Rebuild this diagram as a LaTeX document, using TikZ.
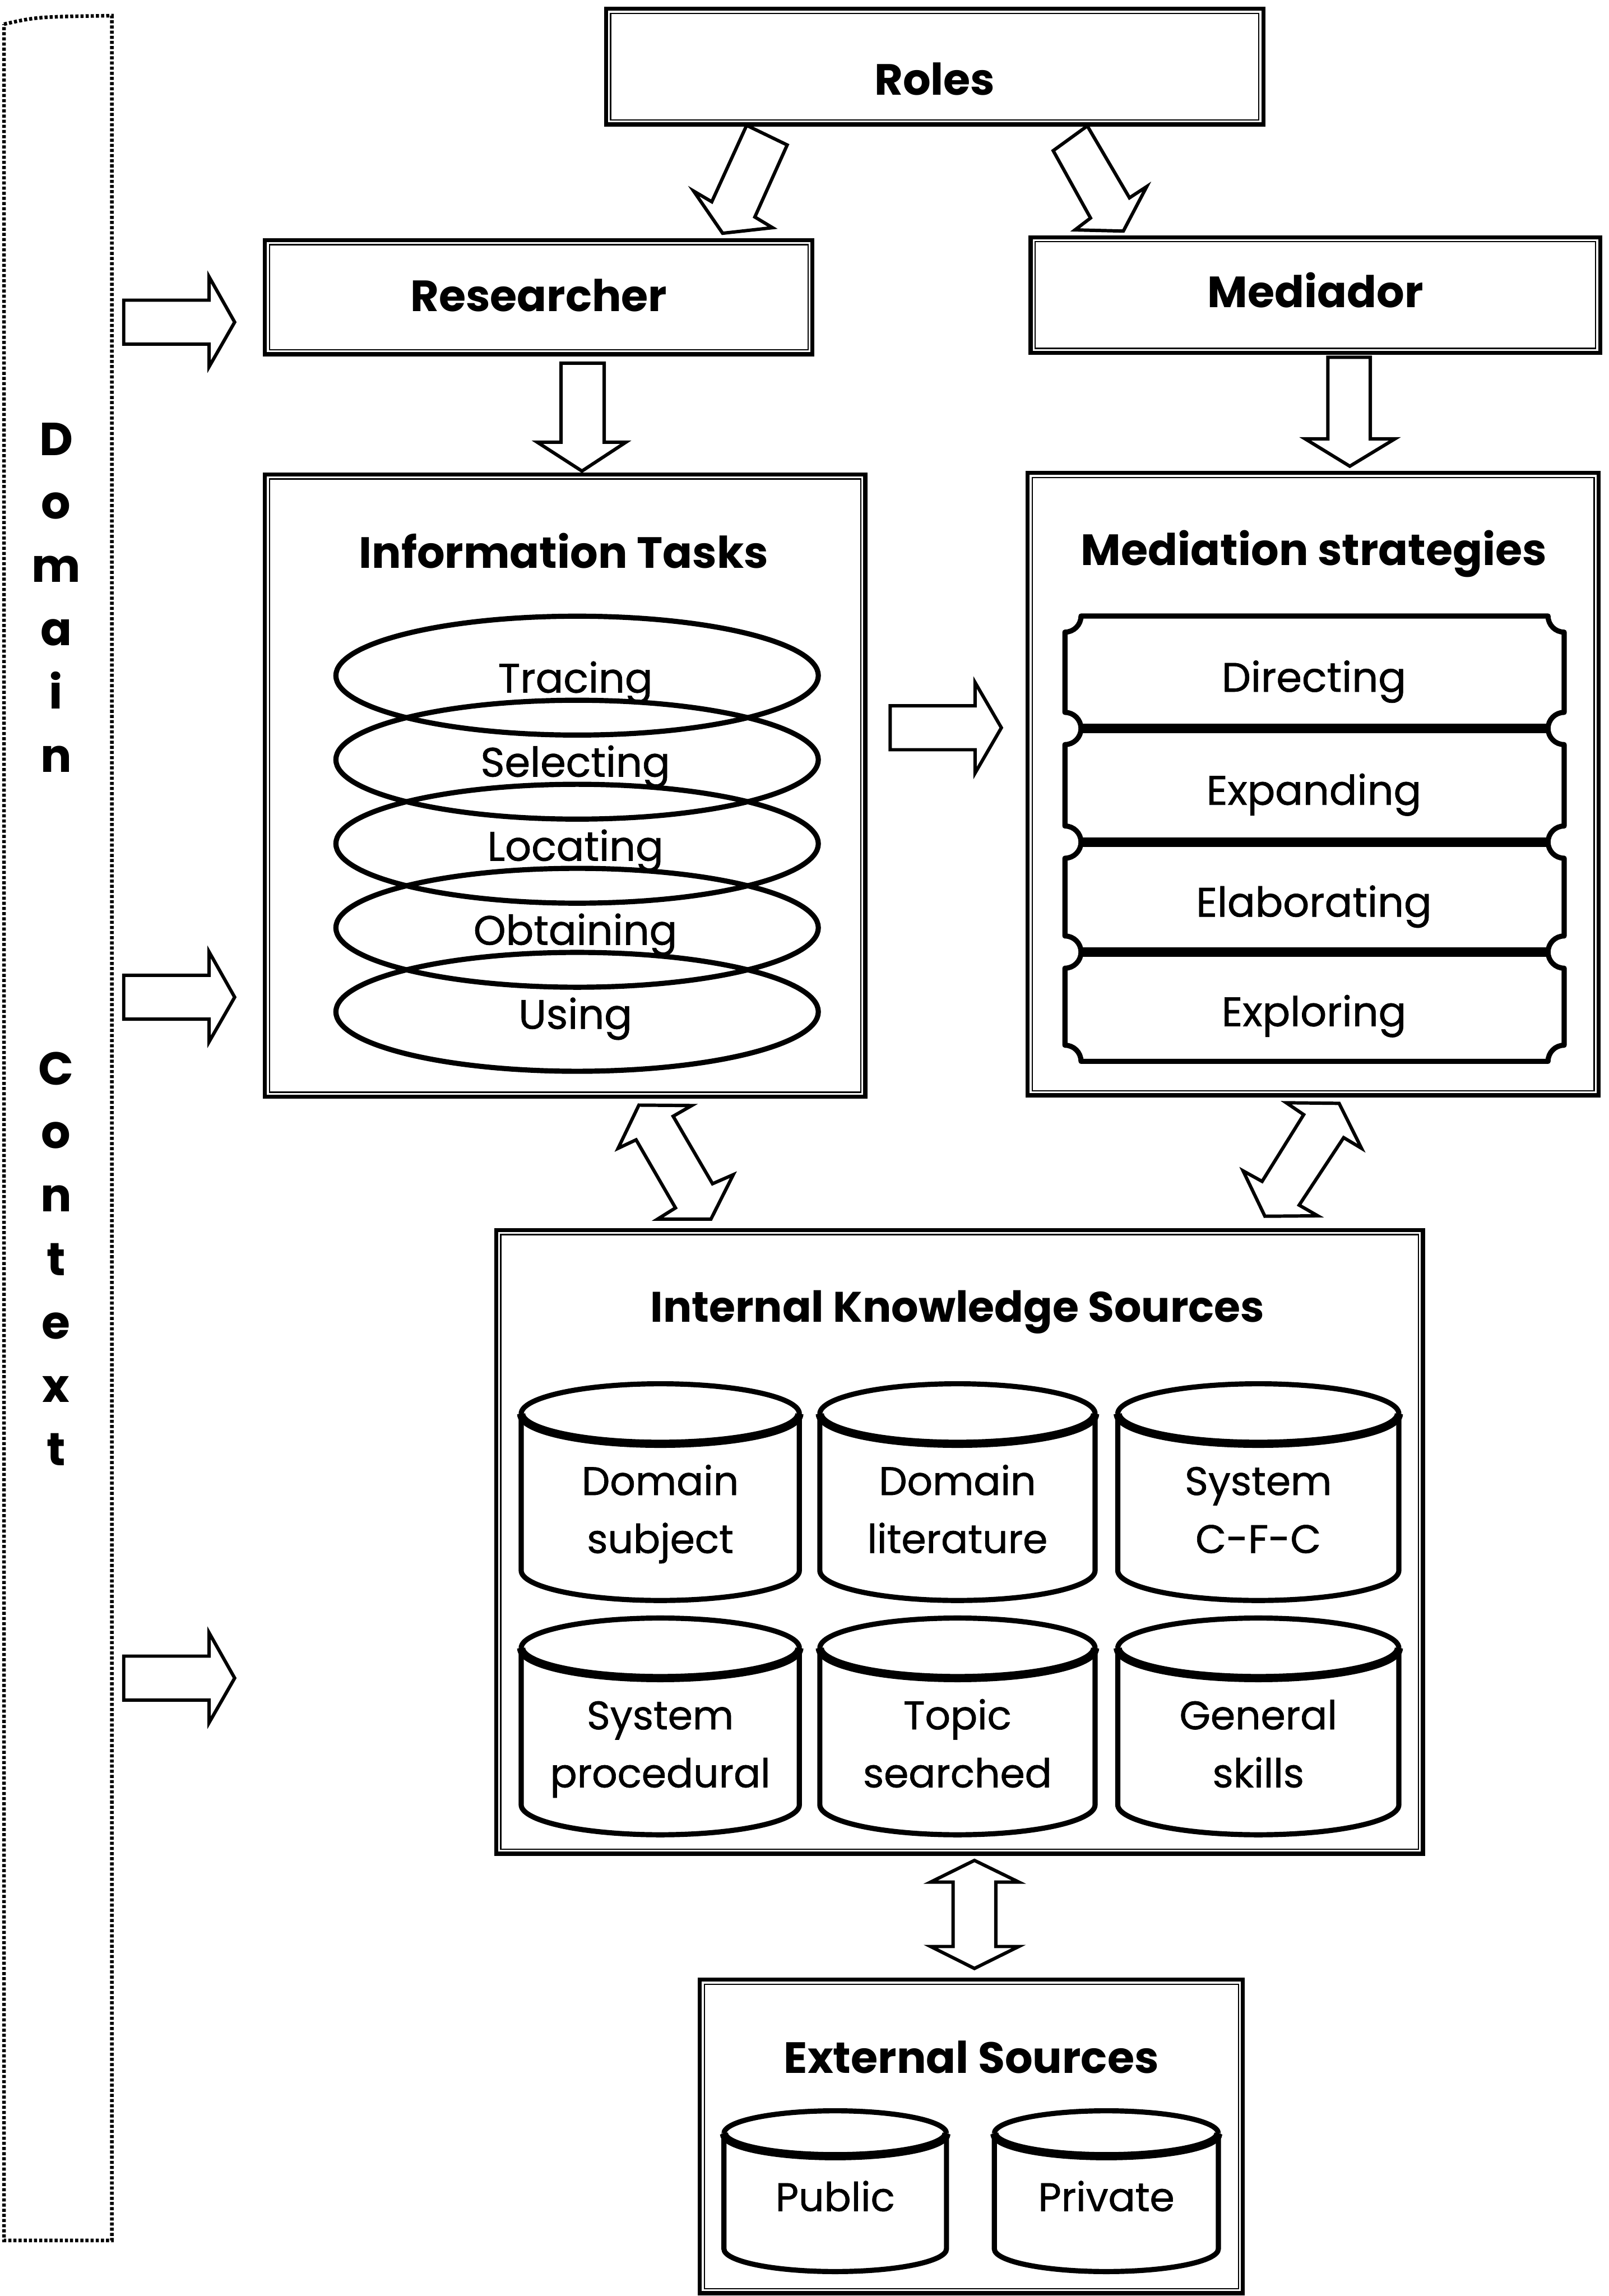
\documentclass[tikz,border=0pt]{standalone}
\usepackage{fontspec}
\setmainfont{Poppins}
\newfontfamily\bodyfont{Poppins}[FakeBold=0.9]
\usetikzlibrary{fit,calc,shapes.geometric}

% vertical cylinder: centre x, x radius, top y, bottom y, y radius of the ends
\newcommand\drawcyl[5]{%
  \pgfmathsetmacro\cylL{#1-#2}\pgfmathsetmacro\cylR{#1+#2}%
  \pgfmathsetmacro\cylM{#3+#5}\pgfmathsetmacro\cylF{#3+2*#5}%
  \pgfmathsetmacro\cylB{#4-#5}%
  \pgfmathsetmacro\cylkx{0.552*#2}\pgfmathsetmacro\cylky{0.552*#5}%
  \draw[cylline] (\cylL,\cylM) .. controls (\cylL,\cylM-\cylky) and (#1-\cylkx,#3) .. (#1,#3)
        .. controls (#1+\cylkx,#3) and (\cylR,\cylM-\cylky) .. (\cylR,\cylM);
  \draw[cylfront] (\cylL,\cylM) .. controls (\cylL,\cylM+\cylky) and (#1-\cylkx,\cylF) .. (#1,\cylF)
        .. controls (#1+\cylkx,\cylF) and (\cylR,\cylM+\cylky) .. (\cylR,\cylM);
  \draw[cylline] (\cylL,\cylM) -- (\cylL,\cylB)
        .. controls (\cylL,\cylB+\cylky) and (#1-\cylkx,#4) .. (#1,#4)
        .. controls (#1+\cylkx,#4) and (\cylR,\cylB+\cylky) .. (\cylR,\cylB) -- (\cylR,\cylM);
}

% one band of the strategy scroll, with concave corners
\newcommand\scrollrow[2]{%
  \def\scrXa{727.4}\def\scrXb{1068.4}\def\scrR{11}\def\scrK{6.07}%
  \draw[scrollline] (\scrXa+\scrR,#1) -- (\scrXb-\scrR,#1)
     .. controls (\scrXb-\scrR,#1+\scrK) and (\scrXb-\scrK,#1+\scrR) .. (\scrXb,#1+\scrR)
     -- (\scrXb,#2-\scrR)
     .. controls (\scrXb-\scrK,#2-\scrR) and (\scrXb-\scrR,#2-\scrK) .. (\scrXb-\scrR,#2)
     -- (\scrXa+\scrR,#2)
     .. controls (\scrXa+\scrR,#2-\scrK) and (\scrXa+\scrK,#2-\scrR) .. (\scrXa,#2-\scrR)
     -- (\scrXa,#1+\scrR)
     .. controls (\scrXa+\scrK,#1+\scrR) and (\scrXa+\scrR,#1+\scrK) .. (\scrXa+\scrR,#1) -- cycle;
}

\begin{document}
\begin{tikzpicture}[x=0.02cm, y=-0.02cm,
  frame/.style={draw, line width=1.6pt, inner sep=0pt},
  inframe/.style={draw, line width=0.5pt},
  blockarrow/.style={draw, line width=1.3pt, line join=miter, fill=white},
  title/.style={font=\fontsize{17}{20}\selectfont\bfseries, inner sep=0pt, anchor=base},
  item/.style={font=\bodyfont\fontsize{16}{19}\selectfont, inner sep=0pt, anchor=base},
  cyltext/.style={font=\bodyfont\fontsize{15.5}{18}\selectfont, inner sep=0pt, anchor=base},
  vletter/.style={font=\fontsize{18}{20}\selectfont\bfseries, inner sep=0pt, anchor=base},
  ring/.style={draw, line width=2pt, ellipse, inner sep=0pt,
               minimum width=6.592cm, minimum height=1.624cm},
  scrollline/.style={draw, line width=2pt, line join=round},
  separator/.style={line width=3.8pt},
  cylline/.style={line width=2pt},
  cylfront/.style={line width=3.2pt},
  dotted border/.style={line width=1.4pt, dash pattern=on 1.2pt off 0.8pt}
]
\fill[white] (0,0) rectangle (1099,1568);
\useasboundingbox (0,0) rectangle (1099,1568);

% ---- domain context strip ----
\draw[dotted border] (2.7,16.5) .. controls (25,11.5) .. (76.4,10.7) -- (76.4,1530) -- (2.7,1530) -- cycle;
\foreach \l [count=\i from 0] in {D,o,m,a,i,n}
  \node[vletter] (dom\i) at (38.3,{311+43.3*\i}) {\l};
\foreach \l [count=\i from 0] in {C,o,n,t,e,x,t}
  \node[vletter] (ctx\i) at (38.3,{741+43.3*\i}) {\l};

% ---- framed boxes ----
\node[frame, fit={(414,6) (863,85)}] (roles) {};
\node[frame, fit={(181,164) (555,242)}] (researcher) {};
\node[frame, fit={(704,162) (1093,241)}] (mediador) {};
\node[frame, fit={(181,324) (591,749)}] (tasks) {};
\node[frame, fit={(702,323) (1092,748)}] (mediation) {};
\node[frame, fit={(339,840) (972,1266)}] (internal) {};
\node[frame, fit={(478,1352) (849,1566)}] (external) {};
\foreach \f in {roles,researcher,mediador,tasks,mediation,internal,external}
  \draw[inframe] ($(\f.north west)+(4.5,4.5)$) rectangle ($(\f.south east)+(-4.5,-4.5)$);

% ---- titles ----
\node[title] (tRoles) at (638.5,65) {Roles};
\node[title] (tRes) at (368,212.6) {Researcher};
\node[title] (tMed) at (898.5,210) {Mediador};
\node[title] (tTasks) at (385,388) {Information Tasks};
\node[title] (tStrat) at (897.5,386) {Mediation strategies};
\node[title, font=\fontsize{16.6}{20}\selectfont\bfseries] (tInt) at (654,903) {Internal Knowledge Sources};
\node[title] (tExt) at (663.5,1415.7) {External Sources};

% ---- information tasks: stacked rings ----
\foreach \t [count=\i from 0] in {Tracing,Selecting,Locating,Obtaining,Using} {
  \node[ring] (ring\i) at (394.2,{461.4+57.4*\i}) {};
  \node[item] (task\i) at (393,{473+57.4*\i}) {\t};
}

% ---- mediation strategies: scroll bands ----
\scrollrow{420.7}{497.5}
\scrollrow{497.5}{575.1}
\scrollrow{575.1}{650.2}
\scrollrow{650.2}{724.8}
\foreach \y in {497.5,575.1,650.2}
  \draw[separator] (738.4,\y) -- (1057.4,\y);
\node[item] (strat0) at (897.5,472.4) {Directing};
\node[item] (strat1) at (897.5,549.6) {Expanding};
\node[item] (strat2) at (897.5,626) {Elaborating};
\node[item] (strat3) at (897.5,700.8) {Exploring};

% ---- internal knowledge sources ----
\drawcyl{451}{95}{945}{1093}{20.5}
\drawcyl{654}{94}{945}{1093}{20.5}
\drawcyl{859.5}{96}{945}{1093}{20.5}
\drawcyl{451}{95}{1105}{1253}{20.5}
\drawcyl{654}{94}{1105}{1253}{20.5}
\drawcyl{859.5}{96}{1105}{1253}{20.5}
\node[cyltext] (ks1a) at (451,1021) {Domain};
\node[cyltext] (ks1b) at (451,1060.6) {subject};
\node[cyltext] (ks2a) at (654,1021) {Domain};
\node[cyltext] (ks2b) at (654,1060.6) {literature};
\node[cyltext] (ks3a) at (859.5,1021) {System};
\node[cyltext] (ks3b) at (859.5,1060.6) {C-F-C};
\node[cyltext] (ks4a) at (451,1181) {System};
\node[cyltext] (ks4b) at (451,1220.6) {procedural};
\node[cyltext] (ks5a) at (654,1181) {Topic};
\node[cyltext] (ks5b) at (654,1220.6) {searched};
\node[cyltext] (ks6a) at (859.5,1181) {General};
\node[cyltext] (ks6b) at (859.5,1220.6) {skills};

% ---- external sources ----
\drawcyl{570.5}{76}{1441.5}{1551.3}{15.5}
\drawcyl{755.7}{76.5}{1441.5}{1551.3}{15.5}
\node[cyltext] (pub) at (570.5,1510) {Public};
\node[cyltext] (priv) at (755.7,1510) {Private};

% ---- block arrows ----
% roles to researcher / mediador
\draw[blockarrow] (510.0,85.6) -- (537.7,99.0) -- (515.6,148.2) -- (527.7,155.5) -- (493.6,159.3) -- (473.8,130.5) -- (486.2,137.8) -- cycle;
\draw[blockarrow] (742.7,86.0) -- (771.5,135.1) -- (783.3,127.4) -- (767.3,157.8) -- (734.3,157.0) -- (744.9,148.9) -- (719.4,102.9) -- cycle;
% researcher to tasks, mediador to strategies
\draw[blockarrow] (383.2,248) -- (412.7,248) -- (412.7,302) -- (427.5,302) -- (397.5,321.7) -- (367,302) -- (383.2,302) -- cycle;
\draw[blockarrow] (907,244) -- (936,244) -- (936,299.7) -- (952.8,299.7) -- (922,318.4) -- (891.5,299.7) -- (907,299.7) -- cycle;
% context arrows
\foreach \c in {220,681,1146}
  \draw[blockarrow] (84.5,\c-15) -- (142.8,\c-15) -- (142.8,\c-31) -- (160.3,\c) -- (142.8,\c+30.5) -- (142.8,\c+15) -- (84.5,\c+15) -- cycle;
% tasks to strategies
\draw[blockarrow] (608,482) -- (666,482) -- (666,466) -- (684,497) -- (666,528) -- (666,512) -- (608,512) -- cycle;
% two-way links with the internal sources
\draw[blockarrow] (436.4,754.7) -- (472.5,755.0) -- (459.8,762.3) -- (486.7,808.4) -- (500.9,802.2) -- (485.6,832.6) -- (449.1,832.6) -- (461.4,824.9) -- (434.5,778.4) -- (422.2,784.2) -- cycle;
\draw[blockarrow] (878.6,753.1) -- (914.7,753.5) -- (930.0,784.2) -- (917.8,776.9) -- (887.4,823.0) -- (900.1,830.3) -- (864.0,830.6) -- (849.1,799.6) -- (862.1,806.8) -- (890.5,761.2) -- cycle;
\draw[blockarrow] (665.6,1270.5) -- (695.9,1285.3) -- (680.2,1285.3) -- (680.2,1329.3) -- (695.9,1329.3) -- (665.6,1344.3) -- (635.7,1329.3) -- (651,1329.3) -- (651,1285.3) -- (635.7,1285.3) -- cycle;
\end{tikzpicture}
\end{document}
